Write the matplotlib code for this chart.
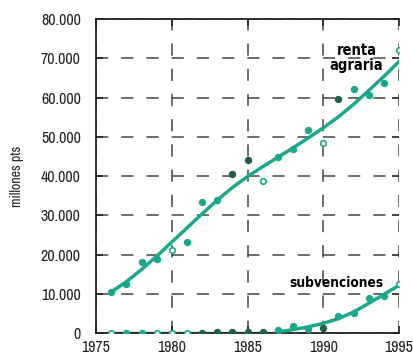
import matplotlib
matplotlib.use("Agg")
import matplotlib.pyplot as plt
from matplotlib.ticker import FuncFormatter

# Datos (millones de pts)
years = list(range(1976, 1996))
renta = [10500, 12600, 18100, 19000, 21300, 23200, 33400, 34000, 40500, 44200,
         38700, 44900, 47000, 51700, 48400, 59600, 62300, 60600, 63800, 72000]
renta_trend = [10500, 13100, 16200, 19600, 23200, 26800, 30400, 33900, 37100, 39900,
               42400, 44800, 47200, 49700, 52300, 55100, 58300, 61800, 65400, 69200]
subv = [0, 0, 0, 0, 0, 0, 100, 200, 200, 300,
        200, 900, 1800, 1000, 1400, 4400, 5200, 9000, 9400, 12600]
subv_flat_years = list(range(1976, 1988))
subv_flat = [150] * 12
subv_trend_years = list(range(1987, 1996))
subv_trend = [300, 900, 1600, 2500, 3700, 5400, 7600, 9900, 12200]

# tipo de marcador por punto: f = relleno verde, d = oscuro, o = hueco
renta_kind = ["f", "f", "f", "f", "o", "f", "f", "f", "d", "d",
              "o", "f", "f", "f", "o", "d", "f", "f", "f", "o"]
subv_kind = ["o", "f", "f", "o", "o", "o", "d", "d", "d", "d",
             "d", "f", "f", "f", "d", "f", "f", "f", "f", "o"]

teal = "#1aa88c"
dark = "#1f5f45"
num_font = "Archivo Narrow"

fig = plt.figure(figsize=(4.14, 3.59), dpi=100)
ax = fig.add_axes([0.232, 0.072, 0.732, 0.875])

ax.plot(years, renta_trend, color=teal, lw=2.5, zorder=3, solid_capstyle="round")
ax.plot(subv_flat_years, subv_flat, color="#1a3a2a", lw=1.6, zorder=3)
ax.plot(subv_trend_years, subv_trend, color=teal, lw=2.5, zorder=3, solid_capstyle="round")


def draw_points(xs, ys, kinds):
    for x, y, k in zip(xs, ys, kinds):
        if k == "f":
            ax.plot(x, y, "o", ms=4.3, color=teal, mec=teal, zorder=4)
        elif k == "d":
            ax.plot(x, y, "o", ms=4.3, color=dark, mec=dark, zorder=4)
        else:
            ax.plot(x, y, "o", ms=4.0, mfc="white", mec=teal, mew=1.2, zorder=4)


draw_points(years, renta, renta_kind)
draw_points(years, subv, subv_kind)

ax.set_xlim(1975, 1995)
ax.set_ylim(0, 80000)
ax.set_xticks([1975, 1980, 1985, 1990, 1995])
ax.set_yticks(range(0, 80001, 10000))
ax.yaxis.set_major_formatter(FuncFormatter(lambda v, p: f"{int(v):,}".replace(",", ".")))

ax.grid(True, color="#444444", lw=1.1, linestyle=(0, (8, 8.5)))
ax.set_axisbelow(True)
for s in ["left", "bottom", "top"]:
    ax.spines[s].set_color("#222222")
    ax.spines[s].set_linewidth(1.3)
ax.spines["right"].set_visible(False)

ax.tick_params(axis="both", direction="in", length=5, width=1.2, color="#222222",
               labelsize=11.5, labelcolor="#222222", top=True, right=True)
ax.tick_params(axis="y", pad=11)
ax.tick_params(axis="x", pad=5)
for lab in ax.get_xticklabels() + ax.get_yticklabels():
    lab.set_fontfamily(num_font)

ax.set_ylabel("millones pts", fontsize=10, family=num_font, color="#222222", labelpad=12)

ax.text(1992.2, 74000, "renta\nagraria", fontsize=10.5, fontweight="bold", family="DejaVu Sans",
        stretch="condensed", ha="center", va="top", linespacing=1.0, zorder=5)
ax.text(1990.9, 12700, "subvenciones", fontsize=9.8, fontweight="bold", family="DejaVu Sans",
        stretch="condensed", ha="center", va="center", zorder=5)

fig.savefig("out.png", dpi=100)
